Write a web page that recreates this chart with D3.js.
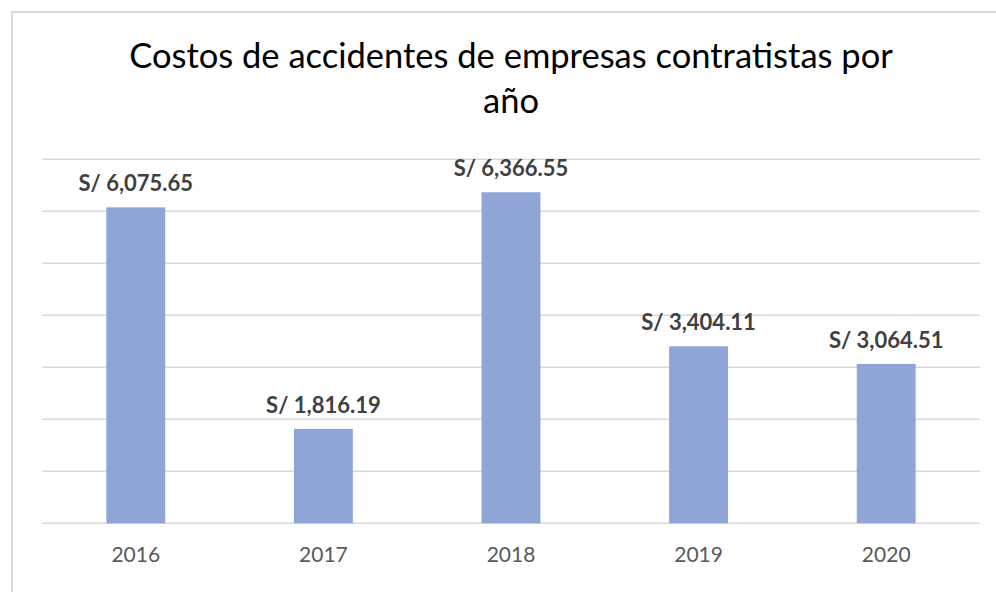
<!DOCTYPE html>
<html>
<head>
<meta charset="utf-8">
<script src="https://cdn.jsdelivr.net/npm/d3@7"></script>
<style>
  body { margin: 0; background: #fff; }
  svg { display: block; font-family: Lato, "Open Sans", sans-serif; }
</style>
</head>
<body>
<svg id="chart"></svg>
<script>
// datos del gráfico
var years = ["2016", "2017", "2018", "2019", "2020"];
var costs = [6075.65, 1816.19, 6366.55, 3404.11, 3064.51];
var gridTicks = [0, 1000, 2000, 3000, 4000, 5000, 6000, 7000];
var titleLines = ["Costos de accidentes de empresas contratistas por", "año"];

var width = 996;
var height = 592;

var svg = d3.select("#chart")
    .attr("width", width)
    .attr("height", height);

// marco del área del gráfico
svg.append("rect")
    .attr("x", 12).attr("y", 12)
    .attr("width", 1000).attr("height", 600)
    .attr("fill", "none")
    .attr("stroke", "#d9d9d9")
    .attr("stroke-width", 2);

var xScale = d3.scaleBand()
    .domain(years)
    .range([42, 980])
    .paddingInner(0.686)
    .paddingOuter(0.343);

var yScale = d3.scaleLinear()
    .domain([0, 7000])
    .range([523.3, 159.3]);

// líneas de cuadrícula
svg.append("g")
    .selectAll("line")
    .data(gridTicks)
    .enter()
    .append("line")
        .attr("x1", 42)
        .attr("x2", 980)
        .attr("y1", d => yScale(d))
        .attr("y2", d => yScale(d))
        .attr("stroke", "#d9d9d9")
        .attr("stroke-width", 1.5);

// barras
svg.append("g")
    .selectAll("rect")
    .data(costs)
    .enter()
    .append("rect")
        .attr("x", (d, i) => xScale(years[i]))
        .attr("y", d => yScale(d))
        .attr("width", xScale.bandwidth())
        .attr("height", d => yScale(0) - yScale(d))
        .attr("fill", "#8FA5D5");

// etiquetas de valores
var fmt = d3.format(",.2f");
svg.append("g")
    .selectAll("text")
    .data(costs)
    .enter()
    .append("text")
        .attr("x", (d, i) => xScale(years[i]) + xScale.bandwidth() / 2)
        .attr("y", d => yScale(d) - 16)
        .attr("text-anchor", "middle")
        .attr("font-size", 22)
        .attr("font-weight", "bold")
        .attr("fill", "#404040")
        .text(d => "S/ " + fmt(d));

// eje x
var xAxis = svg.append("g")
    .attr("transform", "translate(0,523.3)")
    .call(d3.axisBottom(xScale).tickSize(0).tickPadding(0));
xAxis.select(".domain").remove();
xAxis.selectAll("text")
    .attr("dy", null)
    .attr("y", 38.5)
    .attr("font-size", 21)
    .attr("font-family", "Lato, 'Open Sans', sans-serif")
    .attr("fill", "#595959");

// título
svg.append("g")
    .selectAll("text")
    .data(titleLines)
    .enter()
    .append("text")
        .attr("x", 511)
        .attr("y", (d, i) => 68 + i * 45)
        .attr("text-anchor", "middle")
        .attr("font-size", 34.5)
        .attr("fill", "#000")
        .text(d => d);
</script>
</body>
</html>
